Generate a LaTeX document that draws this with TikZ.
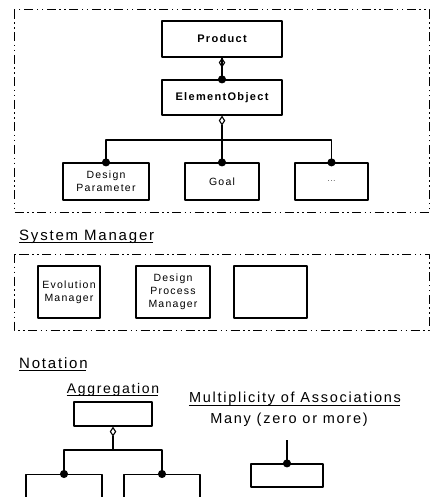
\documentclass[tikz,border=0pt]{standalone}
\usepackage{fontspec}
\setmainfont{Liberation Sans}[LetterSpace=12]
\usetikzlibrary{arrows.meta,positioning}
\tikzset{
  frame/.style={line width=1pt, dash pattern=on 9pt off 3.5pt on 1.5pt off 3.5pt on 1.5pt off 3.5pt},
  obj/.style={draw, line width=1.2pt, inner sep=1pt, align=center, font=\fontsize{10.5}{13}\selectfont},
  bigobj/.style={obj, minimum width=120pt, minimum height=36pt, font=\bfseries\fontsize{11}{13}\selectfont},
  title/.style={inner sep=0pt, anchor=west, font=\fontsize{15}{17}\selectfont},
  label/.style={inner sep=0pt, font=\fontsize{14.5}{16}\selectfont},
  underline/.style={line width=0.8pt},
  whole/.style={line width=1.1pt, {Diamond[open,length=10pt,width=6.5pt,line width=1.1pt]}-},
  part/.style={line width=1.1pt, -{Circle[length=8pt]}, shorten >=-4pt},
}
\begin{document}
\begin{tikzpicture}[x=1pt, y=-1pt, line join=round]
  \useasboundingbox (0,0) rectangle (431,497);
  \clip (0,0) rectangle (431,497);
  % product model
  \draw[frame] (14,10) rectangle (429,212);
  \node[bigobj] (product) at (222,39) {Product};
  \node[bigobj, minimum height=35pt] (element) at (222,97.5) {ElementObject};
  \node[obj, minimum width=86pt, minimum height=37pt] (param) at (106,181.5) {Design\\Parameter};
  \node[obj, minimum width=74pt, minimum height=37pt] (goal) at (222,181.5) {Goal};
  \node[obj, minimum width=73pt, minimum height=37pt] (more) at (331.5,181.5) {\fontsize{7}{8}\selectfont ...};
  \coordinate (bus) at (222,140);
  \draw[whole] (product.south) -- (element.north);
  \draw[part] (product.south) -- (element.north);
  \draw[whole] (element.south) -- (bus);
  \draw[part] (bus) -| (param.north);
  \draw[part] (bus) -- (goal.north);
  \draw[part] (bus) -| (more.north);
  % system manager
  \node[title] (sysmgr) at (19,237) {System Manager};
  \draw[frame] (14,254) rectangle (429,330);
  \node[obj, minimum width=62pt, minimum height=52pt] (evol) at (69,292) {Evolution\\Manager};
  \node[obj, minimum width=74pt, minimum height=52pt] (process) at (173,292) {Design\\Process\\Manager};
  \node[obj, minimum width=73pt, minimum height=52pt] (empty) at (270.5,292) {};
  % notation
  \node[title] (notation) at (19,363) {Notation};
  \node[label, font=\fontsize{14}{16}\selectfont] (agglabel) at (113,390) {Aggregation};
  \node[obj, minimum width=78pt, minimum height=24pt] (aggtop) at (113,414) {};
  \node[obj, minimum width=76pt, minimum height=40pt, anchor=north] (aggleft) at (64,474) {};
  \node[obj, minimum width=76pt, minimum height=40pt, anchor=north] (aggright) at (162,474) {};
  \coordinate (aggbus) at (113,450);
  \draw[whole] (aggtop.south) -- (aggbus);
  \draw[part] (aggbus) -| (aggleft.north);
  \draw[part] (aggbus) -| (aggright.north);
  \node[label] (multlabel) at (295,399) {Multiplicity of Associations};
  \node[label] (many) at (289,420) {Many (zero or more)};
  \node[obj, minimum width=72pt, minimum height=23pt] (manybox) at (287,475.5) {};
  \coordinate (manyend) at (287,440);
  \draw[part] (manyend) -- (manybox.north);
  % underlined headings
  \foreach \n in {sysmgr,notation,agglabel,multlabel}{
    \draw[underline] ([yshift=-2.2pt]\n.base west) -- ([yshift=-2.2pt,xshift=-1.5pt]\n.base east);
  }
\end{tikzpicture}
\end{document}
